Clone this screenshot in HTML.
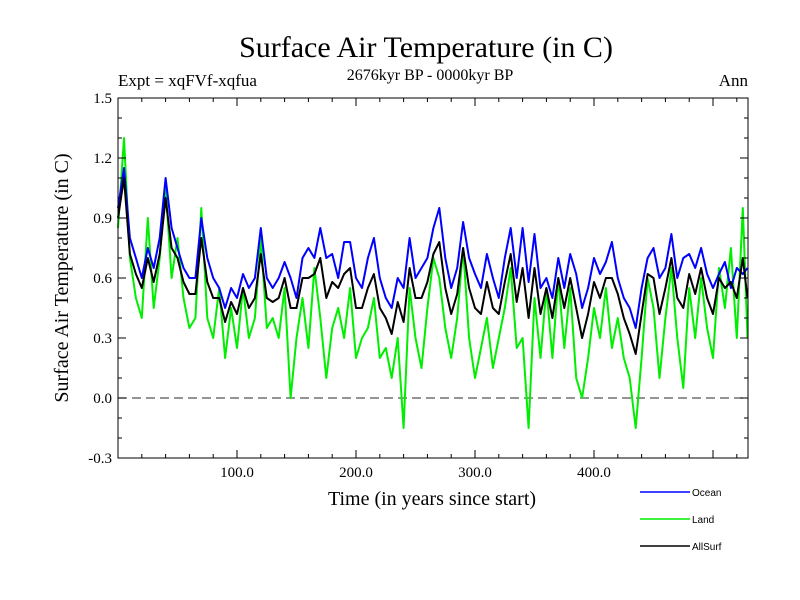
<!DOCTYPE html>
<html><head><meta charset="utf-8"><style>
body{margin:0;background:#fff}
svg{display:block}
text{font-family:"Liberation Serif",serif;fill:#000}
</style></head><body>
<svg id="chart" width="800" height="600" xmlns="http://www.w3.org/2000/svg">
<text x="426" y="57" font-size="30" text-anchor="middle">Surface Air Temperature (in C)</text>
<text x="430" y="80" font-size="16" text-anchor="middle">2676kyr BP - 0000kyr BP</text>
<text x="118" y="86" font-size="17">Expt = xqFVf-xqfua</text>
<text x="748" y="86" font-size="17" text-anchor="end">Ann</text>
<text transform="translate(68,278) rotate(-90)" font-size="20" text-anchor="middle">Surface Air Temperature (in C)</text>
<text x="432" y="505" font-size="20" text-anchor="middle">Time (in years since start)</text>
<g id="plot"></g>
<g id="legend"></g>
</svg>
<script>
const years=[0,5,10,15,20,25,30,35,40,45,50,55,60,65,70,75,80,85,90,95,100,105,110,115,120,125,130,135,140,145,150,155,160,165,170,175,180,185,190,195,200,205,210,215,220,225,230,235,240,245,250,255,260,265,270,275,280,285,290,295,300,305,310,315,320,325,330,335,340,345,350,355,360,365,370,375,380,385,390,395,400,405,410,415,420,425,430,435,440,445,450,455,460,465,470,475,480,485,490,495,500,505,510,515,520,525,529];
const ocean=[0.95,1.15,0.8,0.7,0.6,0.75,0.65,0.8,1.1,0.85,0.75,0.65,0.6,0.6,0.9,0.7,0.6,0.55,0.45,0.55,0.5,0.62,0.55,0.6,0.85,0.6,0.55,0.6,0.68,0.6,0.5,0.7,0.75,0.7,0.85,0.7,0.72,0.6,0.78,0.78,0.6,0.55,0.7,0.8,0.6,0.5,0.45,0.6,0.55,0.8,0.6,0.65,0.7,0.85,0.95,0.7,0.55,0.65,0.88,0.7,0.62,0.55,0.72,0.6,0.5,0.7,0.85,0.6,0.85,0.58,0.82,0.55,0.6,0.5,0.7,0.55,0.72,0.62,0.45,0.55,0.7,0.62,0.68,0.78,0.6,0.5,0.45,0.35,0.55,0.7,0.75,0.6,0.65,0.82,0.6,0.7,0.72,0.65,0.75,0.62,0.55,0.62,0.68,0.55,0.65,0.62,0.65];
const land=[0.85,1.3,0.7,0.5,0.4,0.9,0.45,0.7,1.05,0.6,0.8,0.5,0.35,0.4,0.95,0.4,0.3,0.55,0.2,0.45,0.25,0.55,0.3,0.4,0.8,0.35,0.4,0.3,0.55,0.0,0.3,0.5,0.25,0.65,0.4,0.1,0.35,0.45,0.3,0.55,0.2,0.3,0.35,0.5,0.2,0.25,0.1,0.3,-0.15,0.55,0.3,0.15,0.45,0.7,0.6,0.35,0.2,0.4,0.75,0.3,0.1,0.25,0.4,0.15,0.3,0.45,0.65,0.25,0.3,-0.15,0.5,0.2,0.55,0.2,0.6,0.25,0.55,0.1,0.0,0.2,0.45,0.3,0.55,0.25,0.4,0.2,0.1,-0.15,0.2,0.6,0.45,0.1,0.4,0.65,0.3,0.05,0.55,0.3,0.6,0.35,0.2,0.65,0.45,0.75,0.3,0.95,0.3];
const allsurf=[0.9,1.1,0.72,0.62,0.55,0.7,0.58,0.72,1.0,0.75,0.7,0.58,0.52,0.52,0.8,0.58,0.5,0.5,0.38,0.48,0.42,0.55,0.45,0.5,0.72,0.5,0.48,0.5,0.6,0.45,0.45,0.6,0.6,0.62,0.7,0.5,0.58,0.55,0.62,0.65,0.45,0.45,0.55,0.62,0.45,0.4,0.32,0.48,0.38,0.65,0.5,0.5,0.58,0.72,0.78,0.55,0.42,0.52,0.75,0.55,0.45,0.42,0.58,0.45,0.42,0.58,0.72,0.48,0.65,0.4,0.65,0.42,0.55,0.4,0.6,0.45,0.6,0.45,0.3,0.42,0.58,0.5,0.6,0.6,0.52,0.4,0.32,0.22,0.42,0.62,0.6,0.42,0.55,0.7,0.5,0.45,0.62,0.52,0.65,0.5,0.42,0.6,0.55,0.58,0.5,0.7,0.5];
const yTicks=[-0.3,0.0,0.3,0.6,0.9,1.2,1.5];
const yTickLabels=["-0.3","0.0","0.3","0.6","0.9","1.2","1.5"];
const xTicks=[100,200,300,400];
const xTickLabels=["100.0","200.0","300.0","400.0"];
const seriesNames=["Ocean","Land","AllSurf"];

const NS="http://www.w3.org/2000/svg";
const L=118,R=748,T=98,B=458,xMin=0,xMax=529.4,yMin=-0.3,yMax=1.5;
const X=v=>L+(v-xMin)/(xMax-xMin)*(R-L);
const Y=v=>B-(v-yMin)/(yMax-yMin)*(B-T);
const plot=document.getElementById('plot');
function mk(tag,attrs,parent){const e=document.createElementNS(NS,tag);for(const k in attrs)e.setAttribute(k,attrs[k]);(parent||plot).appendChild(e);return e;}

const zero=mk('line',{x1:L,x2:R,y1:Y(0),y2:Y(0),stroke:'#555','stroke-width':1.2,'stroke-dasharray':'9,5'});



const colors=['#0000ff','#00ee00','#000000'];
const data=[ocean,land,allsurf];
const order=[1,0,2];
order.forEach(i=>{
  const d=data[i].map((v,j)=>(j?'L':'M')+X(years[j]).toFixed(1)+','+Y(v).toFixed(1)).join('');
  const p=mk('path',{d:d,fill:'none',stroke:colors[i],'stroke-width':2,'stroke-linejoin':'round'});
  
  
});

const frame=mk('rect',{x:L,y:T,width:R-L,height:B-T,fill:'none',stroke:'#000','stroke-width':1});



for(let v=-3;v<=15;v++){
  const y=Y(v/10),major=(v%3===0),len=major?8:4;
  mk('line',{x1:L,x2:L+len,y1:y,y2:y,stroke:'#000'});
  mk('line',{x1:R-len,x2:R,y1:y,y2:y,stroke:'#000'});
}
yTicks.forEach((v,i)=>{
  const t=mk('text',{x:L-6,y:Y(v)+5,'font-size':15,'text-anchor':'end'});
  t.textContent=yTickLabels[i];
  
  
});
for(let v=20;v<=520;v+=20){
  const x=X(v),major=(v%100===0),len=major?8:4;
  mk('line',{x1:x,x2:x,y1:B,y2:B-len,stroke:'#000'});
  mk('line',{x1:x,x2:x,y1:T,y2:T+len,stroke:'#000'});
}
xTicks.forEach((v,i)=>{
  const t=mk('text',{x:X(v),y:B+19,'font-size':15,'text-anchor':'middle'});
  t.textContent=xTickLabels[i];
  
  
});

const lg=document.getElementById('legend');
seriesNames.forEach((n,i)=>{
  const y=492+i*27;
  const ln=mk('line',{x1:640,x2:690,y1:y,y2:y,stroke:colors[i],'stroke-width':1.5},lg);
  
  
  const t=mk('text',{x:692,y:y+4,'font-size':10,style:'font-family:"Liberation Sans",sans-serif'},lg);
  t.textContent=n;
  
  
});
</script>
</body></html>
